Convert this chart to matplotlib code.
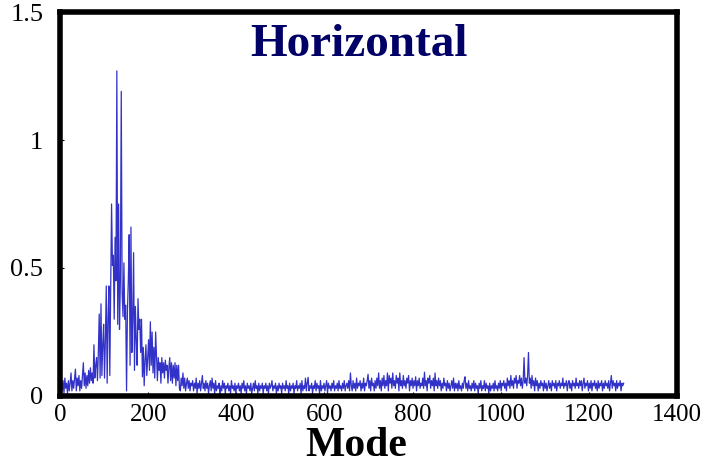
import numpy as np
import matplotlib
matplotlib.use("Agg")
import matplotlib.pyplot as plt

# amplitude per mode
# low modes (1, 3, 5, ... 299) - the peak region
amp_low = [
    0.03, 0.05, 0.02, 0.06, 0.01, 0.07, 0.03, 0.05, 0.01, 0.06,
    0.02, 0.05, 0.09, 0.02, 0.06, 0.03, 0.07, 0.105, 0.02, 0.07,
    0.04, 0.08, 0.02, 0.06, 0.03, 0.08, 0.13, 0.04, 0.09, 0.03,
    0.08, 0.04, 0.10, 0.05, 0.11, 0.06, 0.09, 0.05, 0.20, 0.07,
    0.12, 0.15, 0.06, 0.17, 0.32, 0.07, 0.36, 0.08, 0.20, 0.28,
    0.07, 0.22, 0.43, 0.05, 0.30, 0.43, 0.08, 0.40, 0.75, 0.51,
    0.55, 0.30, 0.62, 0.45, 1.27, 0.28, 0.75, 0.26, 0.45, 1.19,
    0.40, 0.31, 0.52, 0.30, 0.355, 0.02, 0.33, 0.45, 0.63, 0.12,
    0.66, 0.17, 0.30, 0.56, 0.10, 0.35, 0.22, 0.12, 0.38, 0.26,
    0.30, 0.17, 0.30, 0.075, 0.19, 0.04, 0.14, 0.20, 0.08, 0.15,
    0.22, 0.10, 0.29, 0.12, 0.25, 0.09, 0.19, 0.07, 0.25, 0.15,
    0.06, 0.15, 0.10, 0.13, 0.05, 0.15, 0.09, 0.13, 0.07, 0.14,
    0.10, 0.12, 0.05, 0.11, 0.15, 0.06, 0.13, 0.05, 0.12, 0.07,
    0.13, 0.04, 0.12, 0.06, 0.12, 0.03, 0.02, 0.07, 0.04, 0.09,
    0.03, 0.07, 0.02, 0.05, 0.07, 0.03, 0.06, 0.02, 0.05, 0.04,
]

# high modes (301, 303, ... 1279) - the long flat tail
amp_high = [
    0.06, 0.02, 0.05, 0.03, 0.07, 0.01, 0.05, 0.03, 0.06, 0.02,
    0.05, 0.08, 0.03, 0.05, 0.02, 0.06, 0.03, 0.05, 0.01, 0.04,
    0.06, 0.02, 0.07, 0.03, 0.05, 0.01, 0.06, 0.02, 0.04, 0.03,
    0.05, 0.00, 0.04, 0.02, 0.06, 0.03, 0.05, 0.01, 0.04, 0.03,
    0.05, 0.02, 0.04, 0.01, 0.06, 0.03, 0.04, 0.02, 0.05, 0.01,
    0.04, 0.03, 0.05, 0.02, 0.04, 0.01, 0.05, 0.03, 0.06, 0.02,
    0.04, 0.01, 0.05, 0.03, 0.04, 0.02, 0.05, 0.01, 0.03, 0.05,
    0.02, 0.06, 0.03, 0.04, 0.01, 0.05, 0.02, 0.04, 0.03, 0.05,
    0.01, 0.04, 0.03, 0.05, 0.02, 0.04, 0.01, 0.05, 0.03, 0.04,
    0.06, 0.02, 0.04, 0.03, 0.05, 0.01, 0.04, 0.02, 0.05, 0.03,
    0.04, 0.01, 0.05, 0.03, 0.04, 0.02, 0.06, 0.03, 0.04, 0.01,
    0.05, 0.02, 0.04, 0.03, 0.05, 0.01, 0.04, 0.03, 0.06, 0.02,
    0.04, 0.03, 0.05, 0.01, 0.06, 0.02, 0.04, 0.03, 0.07, 0.02,
    0.05, 0.073, 0.02, 0.04, 0.03, 0.05, 0.01, 0.04, 0.03, 0.06,
    0.02, 0.05, 0.03, 0.04, 0.01, 0.06, 0.02, 0.04, 0.03, 0.05,
    0.02, 0.04, 0.06, 0.01, 0.05, 0.03, 0.04, 0.02, 0.05, 0.03,
    0.06, 0.02, 0.04, 0.03, 0.05, 0.02, 0.06, 0.03, 0.04, 0.02,
    0.05, 0.03, 0.06, 0.02, 0.04, 0.05, 0.03, 0.06, 0.02, 0.09,
    0.04, 0.02, 0.06, 0.03, 0.05, 0.02, 0.07, 0.03, 0.05, 0.04,
    0.06, 0.02, 0.05, 0.03, 0.07, 0.02, 0.05, 0.04, 0.06, 0.085,
    0.03, 0.06, 0.02, 0.07, 0.04, 0.05, 0.02, 0.06, 0.03, 0.07,
    0.04, 0.09, 0.03, 0.06, 0.02, 0.07, 0.04, 0.08, 0.03, 0.06,
    0.04, 0.09, 0.02, 0.08, 0.05, 0.07, 0.03, 0.09, 0.04, 0.06,
    0.03, 0.08, 0.05, 0.07, 0.02, 0.09, 0.04, 0.06, 0.03, 0.08,
    0.04, 0.06, 0.03, 0.07, 0.05, 0.08, 0.02, 0.06, 0.04, 0.07,
    0.03, 0.06, 0.04, 0.075, 0.02, 0.06, 0.04, 0.07, 0.03, 0.05,
    0.04, 0.07, 0.03, 0.093, 0.04, 0.06, 0.02, 0.07, 0.05, 0.08,
    0.03, 0.06, 0.04, 0.07, 0.02, 0.09, 0.04, 0.06, 0.03, 0.07,
    0.04, 0.06, 0.02, 0.05, 0.03, 0.07, 0.04, 0.05, 0.02, 0.06,
    0.03, 0.05, 0.02, 0.04, 0.06, 0.03, 0.07, 0.02, 0.05, 0.03,
    0.05, 0.02, 0.06, 0.03, 0.04, 0.02, 0.05, 0.03, 0.06, 0.075,
    0.03, 0.05, 0.02, 0.06, 0.03, 0.04, 0.02, 0.05, 0.03, 0.06,
    0.02, 0.05, 0.03, 0.04, 0.01, 0.05, 0.03, 0.06, 0.02, 0.04,
    0.03, 0.06, 0.02, 0.05, 0.03, 0.04, 0.01, 0.05, 0.02, 0.04,
    0.03, 0.05, 0.02, 0.06, 0.03, 0.04, 0.02, 0.05, 0.03, 0.06,
    0.02, 0.05, 0.04, 0.06, 0.03, 0.05, 0.02, 0.07, 0.04, 0.06,
    0.03, 0.08, 0.04, 0.06, 0.03, 0.07, 0.05, 0.08, 0.03, 0.06,
    0.05, 0.08, 0.04, 0.07, 0.03, 0.06, 0.15, 0.05, 0.07, 0.04,
    0.08, 0.17, 0.05, 0.07, 0.03, 0.08, 0.04, 0.06, 0.02, 0.07,
    0.04, 0.06, 0.02, 0.05, 0.03, 0.06, 0.04, 0.05, 0.02, 0.06,
    0.03, 0.05, 0.02, 0.04, 0.06, 0.03, 0.05, 0.02, 0.06, 0.04,
    0.05, 0.03, 0.06, 0.02, 0.05, 0.04, 0.06, 0.03, 0.05, 0.04,
    0.07, 0.03, 0.05, 0.04, 0.06, 0.02, 0.05, 0.06, 0.03, 0.05,
    0.02, 0.06, 0.04, 0.05, 0.03, 0.07, 0.04, 0.05, 0.03, 0.06,
    0.04, 0.06, 0.02, 0.05, 0.07, 0.03, 0.05, 0.04, 0.06, 0.02,
    0.05, 0.03, 0.06, 0.02, 0.05, 0.04, 0.06, 0.03, 0.05, 0.02,
    0.06, 0.03, 0.05, 0.04, 0.06, 0.02, 0.05, 0.03, 0.06, 0.04,
    0.05, 0.03, 0.06, 0.02, 0.05, 0.08, 0.03, 0.06, 0.04, 0.05,
    0.02, 0.06, 0.03, 0.05, 0.04, 0.06, 0.02, 0.05, 0.04, 0.05,
]

x_ticks = [0, 200, 400, 600, 800, 1000, 1200, 1400]
y_ticks = [0, 0.5, 1, 1.5]
y_tick_labels = ["0", "0.5", "1", "1.5"]

modes = np.concatenate([1 + 2 * np.arange(len(amp_low)),
                        301 + 2 * np.arange(len(amp_high))])
amps = np.concatenate([amp_low, amp_high])

plt.rcParams["font.family"] = ["Liberation Serif", "DejaVu Serif"]

fig = plt.figure(figsize=(7.04, 4.69), dpi=100)
ax = fig.add_axes([60 / 704, 1 - 396 / 469, 617 / 704, 384 / 469])

ax.plot(modes, amps, color="#3232c8", lw=0.9)

ax.set_xlim(0, 1400)
ax.set_ylim(0, 1.5)
ax.set_xticks(x_ticks)
ax.set_yticks(y_ticks)
ax.set_yticklabels(y_tick_labels)
ax.tick_params(direction="in", length=3, width=0.8)
ax.tick_params(axis="y", pad=12, labelsize=19)
ax.tick_params(axis="x", pad=6, labelsize=18)

for s in ax.spines.values():
    s.set_linewidth(4)
    s.set_color("black")

ax.set_xlabel("Mode", fontsize=30, fontweight="bold")
ax.xaxis.set_label_coords(0.48, -0.08)

ax.text(0.485, 0.914, "Horizontal", transform=ax.transAxes,
        ha="center", va="center", fontsize=34, fontweight="bold",
        color="#000066")

fig.savefig("out.png", dpi=100)
